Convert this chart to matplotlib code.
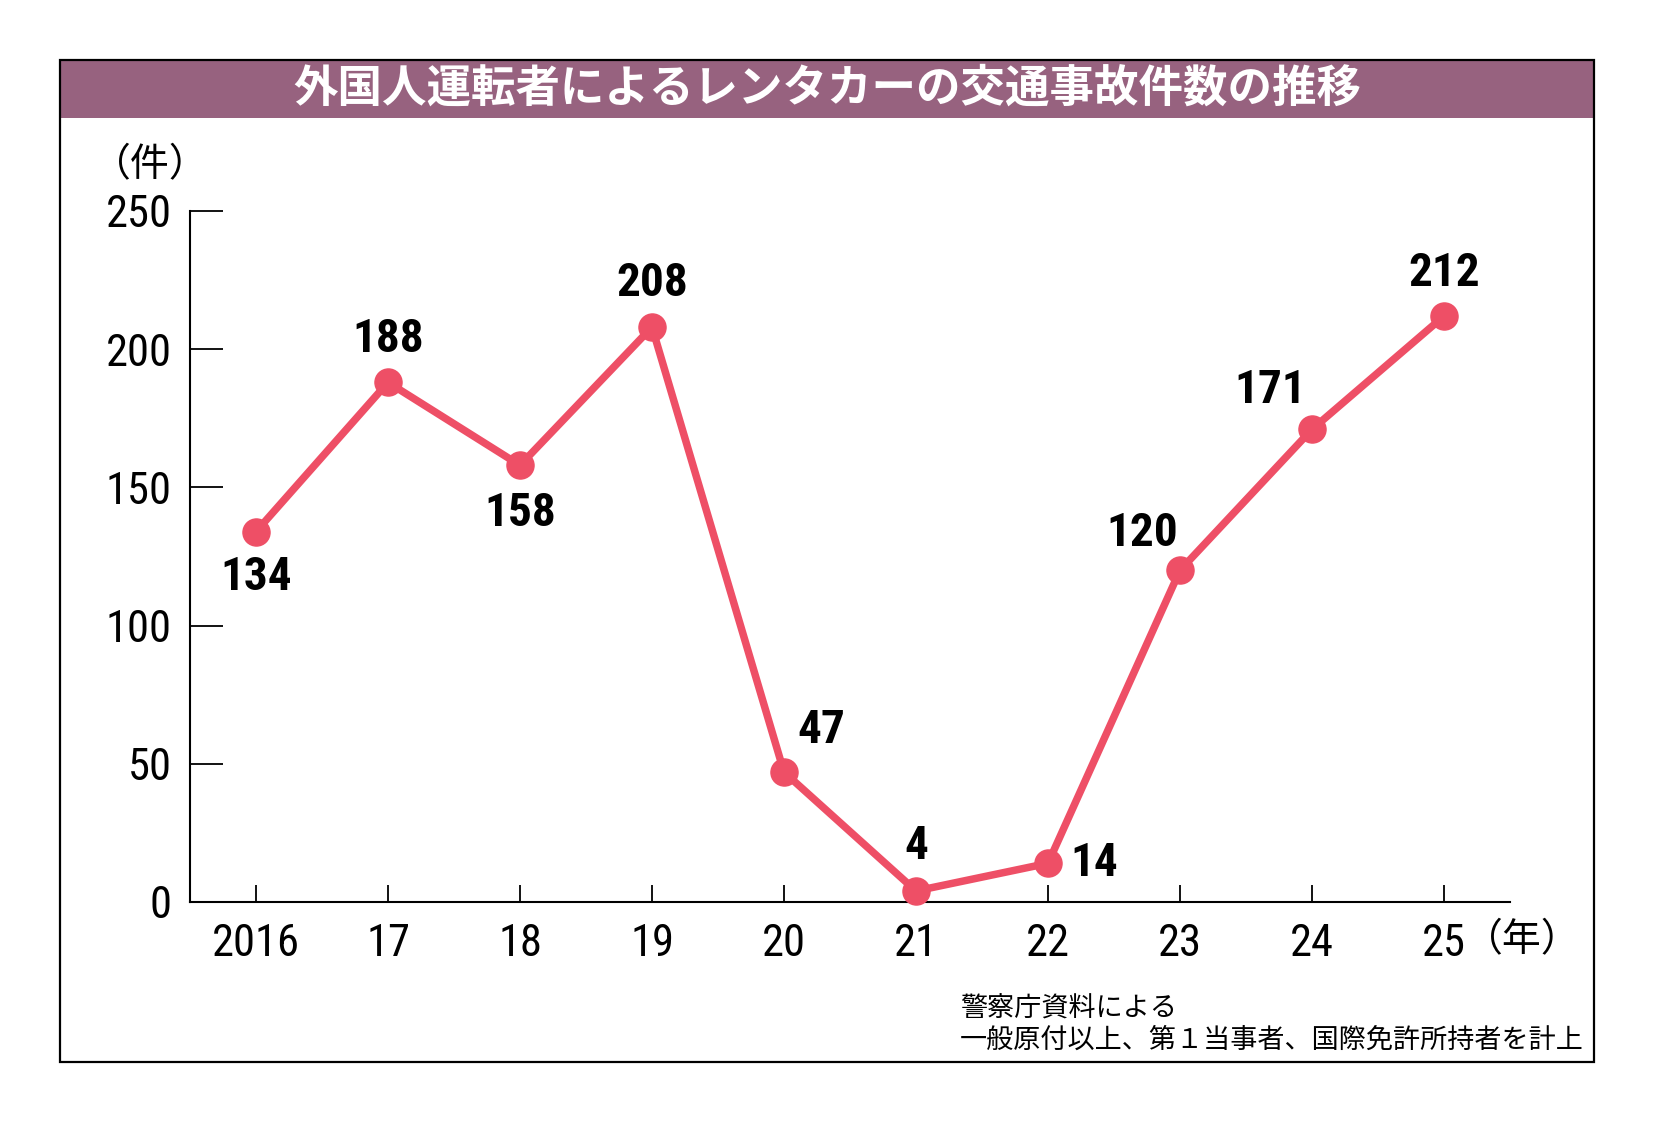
import matplotlib
matplotlib.use("Agg")
import matplotlib.pyplot as plt
from matplotlib import font_manager as fm
from matplotlib.patches import Rectangle

# data
years = ["2016", "17", "18", "19", "20", "21", "22", "23", "24", "25"]
accidents = [134, 188, 158, 208, 47, 4, 14, 120, 171, 212]
# label offsets in points (dx, dy)
label_offsets = [(0, -33), (0, 31), (0, -34), (0, 32), (27, 30),
                 (0, 32), (33, 0), (-27, 27), (-30, 28), (0, 31)]
yticks = [0, 50, 100, 150, 200, 250]

title = "外国人運転者によるレンタカーの交通事故件数の推移"
note1 = "警察庁資料による"
note2 = "一般原付以上、第１当事者、国際免許所持者を計上"


def pick_narrow(weight):
    # look for a condensed sans face, fall back to Liberation Sans
    narrow = []
    for f in fm.fontManager.ttflist:
        st = str(f.stretch).lower()
        if ("narrow" in f.name.lower() or "condensed" in f.name.lower()
                or st in ("condensed", "semi-condensed", "extra-condensed")
                or (st.isdigit() and int(st) < 500)):
            narrow.append(f)
    order = ["Liberation Sans Narrow", "Roboto Condensed", "Noto Sans",
             "Open Sans", "DejaVu Sans", "Roboto"]
    narrow.sort(key=lambda f: order.index(f.name) if f.name in order else 99)
    want_bold = weight == "bold"
    for f in narrow:
        is_bold = str(f.weight) in ("bold", "700", "semibold", "600")
        if is_bold == want_bold and "italic" not in f.style and "oblique" not in f.style:
            return fm.FontProperties(fname=f.fname)
    return fm.FontProperties(family="Liberation Sans", weight=weight)


NUM = pick_narrow("normal")
NUM_B = pick_narrow("bold")
JP_FONT = ["Noto Sans CJK JP", "DejaVu Sans"]
LINE_COLOR = "#ee4f66"
BAND_COLOR = "#97627f"

W, H = 1654, 1122
fig = plt.figure(figsize=(W / 100, H / 100), dpi=100)


def fx(px):
    return px / W


def fy(py):
    return 1 - py / H


# frame and title band
fig.patches.append(Rectangle((fx(60), fy(118)), fx(1594) - fx(60), fy(60) - fy(118),
                             transform=fig.transFigure, facecolor=BAND_COLOR,
                             edgecolor="none", zorder=0))
fig.patches.append(Rectangle((fx(60), fy(1062)), fx(1594) - fx(60), fy(60) - fy(1062),
                             transform=fig.transFigure, facecolor="none",
                             edgecolor="black", linewidth=1.6, zorder=1))
fig.text(0.5, fy(89), title, ha="center", va="center", color="white",
         fontsize=32, fontweight="bold", family=JP_FONT)

ax = fig.add_axes([fx(190), fy(902), fx(1510) - fx(190), fy(211) - fy(902)])
x = range(len(years))
ax.plot(x, accidents, color=LINE_COLOR, linewidth=5.4, marker="o",
        markersize=19.5, clip_on=False, zorder=3)

for i, (v, (dx, dy)) in enumerate(zip(accidents, label_offsets)):
    fp = NUM_B.copy()
    fp.set_size(34)
    ax.annotate(str(v), (i, v), xytext=(dx, dy), textcoords="offset points",
                ha="center", va="center", fontproperties=fp)

ax.set_xlim(-0.5, len(years) - 0.5)
ax.set_ylim(0, 250)
ax.set_xticks(list(x))
ax.set_xticklabels(years)
ax.set_yticks(yticks)
ax.set_yticklabels([str(t) for t in yticks])
tick_fp = NUM.copy()
tick_fp.set_size(32)
for lab in ax.get_xticklabels() + ax.get_yticklabels():
    lab.set_fontproperties(tick_fp)

ax.tick_params(axis="y", direction="in", length=23.5, width=1.3, pad=13)
ax.tick_params(axis="x", direction="in", length=12, width=1.3, pad=15)
for side in ["top", "right"]:
    ax.spines[side].set_visible(False)
for side in ["left", "bottom"]:
    ax.spines[side].set_linewidth(1.5)

# unit labels
fig.text(fx(92), fy(165), "（件）", ha="left", va="center", fontsize=28,
         family=JP_FONT)
fig.text(fx(1464), fy(940), "（年）", ha="left", va="center", fontsize=28,
         family=JP_FONT)

# source notes
fig.text(fx(960), fy(1009), note1, ha="left", va="center", fontsize=19.5,
         family=JP_FONT)
fig.text(fx(960), fy(1040), note2, ha="left", va="center", fontsize=19.5,
         family=JP_FONT)

fig.savefig("out.png", dpi=100, facecolor="white")
